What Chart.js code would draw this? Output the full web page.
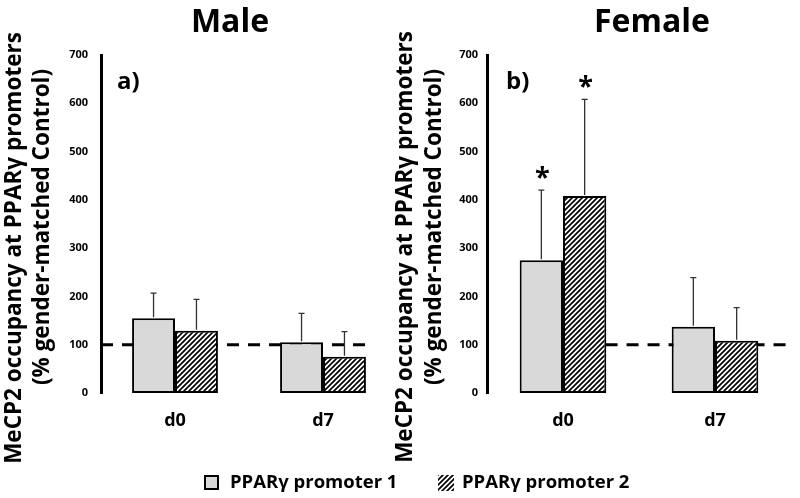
<!DOCTYPE html>
<html>
<head>
<meta charset="utf-8">
<script src="https://cdn.jsdelivr.net/npm/chart.js@4.4.0/dist/chart.umd.min.js"></script>
<style>
  html, body { margin:0; padding:0; background:#fff; }
  #wrap { position:relative; width:800px; height:498px; overflow:hidden; font-family:"Open Sans", sans-serif; font-weight:700; color:#000; }
  canvas { position:absolute; top:0; }
  .t { position:absolute; white-space:nowrap; line-height:1; font-weight:700; }
  .rot { position:absolute; white-space:nowrap; line-height:1; font-weight:700; font-size:22.5px; transform:translate(-50%,-50%) rotate(-90deg); }
  .sw { position:absolute; width:15px; height:15px; box-sizing:border-box; }
</style>
</head>
<body>
<div id="wrap">
  <canvas id="c1" width="400" height="498" style="left:0"></canvas>
  <canvas id="c2" width="400" height="498" style="left:400px"></canvas>

  <div class="t" style="left:230px;top:4px;font-size:32px;transform:translateX(-50%)">Male</div>
  <div class="t" style="left:652px;top:4px;font-size:32px;transform:translateX(-50%)">Female</div>

  <div class="t" style="left:117px;top:68px;font-size:24px">a)</div>
  <div class="t" style="left:506px;top:68px;font-size:24px">b)</div>

  <div class="rot" style="left:13px;top:248px">MeCP2 occupancy at PPARγ promoters</div>
  <div class="rot" style="left:41px;top:227px">(% gender-matched Control)</div>
  <div class="rot" style="left:404px;top:247px">MeCP2 occupancy at PPARγ promoters</div>
  <div class="rot" style="left:433px;top:227px">(% gender-matched Control)</div>

  <div class="sw" style="left:204px;top:475px;background:#d9d9d9;border:2px solid #000"></div>
  <div class="t" style="left:230px;top:472px;font-size:18.5px">PPARγ promoter 1</div>
  <canvas id="lg2" width="16" height="16" style="left:438px;top:475px"></canvas>
  <div class="t" style="left:462px;top:472px;font-size:18.5px">PPARγ promoter 2</div>
</div>
<script>
// ---- data ----
const categories = ['d0', 'd7'];
const seriesNames = ['PPARγ promoter 1', 'PPARγ promoter 2'];
const maleP1 = [155, 105];
const maleP2 = [129, 75];
const maleErrP1 = [52, 60];
const maleErrP2 = [65, 52];
const maleSigP1 = [false, false];
const maleSigP2 = [false, false];
const femaleP1 = [275, 137];
const femaleP2 = [408, 108];
const femaleErrP1 = [145, 102];
const femaleErrP2 = [200, 69];
const femaleSigP1 = [true, false];
const femaleSigP2 = [true, false];
const yMin = 0, yMax = 700, yStep = 100;
const refValue = 100;

// ---- styles ----
const FONT = '"Open Sans", sans-serif';
const GRAY = '#d9d9d9';

function makeHatch() {
  const s = 5;
  const c = document.createElement('canvas');
  c.width = s; c.height = s;
  const g = c.getContext('2d');
  g.fillStyle = '#fff'; g.fillRect(0, 0, s, s);
  g.strokeStyle = '#000'; g.lineWidth = 1.7;
  g.beginPath();
  for (const k of [0, s, 2 * s]) {
    g.moveTo(k + 1, -1); g.lineTo(-1, k + 1);
  }
  g.stroke();
  return c;
}
const hatchTile = makeHatch();

// legend swatch
(function () {
  const lc = document.getElementById('lg2').getContext('2d');
  lc.fillStyle = lc.createPattern(hatchTile, 'repeat');
  lc.fillRect(0, 0, 16, 16);
})();

function makeChart(id, p1, p2, e1, e2, s1, s2, geom) {
  const canvas = document.getElementById(id);
  const ctx = canvas.getContext('2d');
  const hatch = ctx.createPattern(hatchTile, 'repeat');
  const errs = [e1, e2];
  const sigs = [s1, s2];

  const overlay = {
    id: 'overlay' + id,
    beforeDatasetsDraw(chart) {
      const c = chart.ctx, ca = chart.chartArea, ys = chart.scales.y;
      const y = ys.getPixelForValue(refValue);
      const w = ca.right - ca.left;
      c.save();
      c.strokeStyle = '#000'; c.lineWidth = 3; c.setLineDash([12, 9]);
      c.beginPath();
      c.moveTo(ca.left + w * geom.refFrom, y);
      c.lineTo(ca.left + w * geom.refTo, y);
      c.stroke();
      c.restore();
    },
    afterDatasetsDraw(chart) {
      const c = chart.ctx, ys = chart.scales.y;
      c.save();
      chart.data.datasets.forEach((ds, di) => {
        const meta = chart.getDatasetMeta(di);
        meta.data.forEach((bar, i) => {
          const top = ys.getPixelForValue(ds.data[i] + errs[di][i]);
          c.strokeStyle = '#333'; c.lineWidth = 1.3; c.setLineDash([]);
          c.beginPath();
          c.moveTo(bar.x, bar.y - 1); c.lineTo(bar.x, top);
          c.moveTo(bar.x - 3, top); c.lineTo(bar.x + 3, top);
          c.stroke();
          if (sigs[di][i]) {
            c.fillStyle = '#000';
            c.font = '700 27px ' + FONT;
            c.textAlign = 'center';
            c.textBaseline = 'alphabetic';
            const m = c.measureText('*');
            const asc = m.actualBoundingBoxAscent, desc = m.actualBoundingBoxDescent;
            const cy = top - 18;
            c.fillText('*', bar.x + 1, cy + (asc - desc) / 2);
          }
        });
      });
      c.restore();
    }
  };

  return new Chart(ctx, {
    type: 'bar',
    data: {
      labels: categories,
      datasets: [
        { label: seriesNames[0], data: p1, backgroundColor: GRAY, borderColor: '#000', borderWidth: 2, borderSkipped: false,
          categoryPercentage: geom.cp, barPercentage: 1 },
        { label: seriesNames[1], data: p2, backgroundColor: hatch, borderColor: '#000', borderWidth: 2, borderSkipped: false,
          categoryPercentage: geom.cp, barPercentage: 1 }
      ]
    },
    options: {
      responsive: false,
      animation: false,
      devicePixelRatio: 1,
      layout: { padding: { left: 0, right: geom.padRight, top: 55, bottom: 65 } },
      plugins: { legend: { display: false }, tooltip: { enabled: false }, title: { display: false } },
      scales: {
        x: {
          grid: { display: false, drawTicks: false },
          border: { display: false },
          ticks: { color: '#000', padding: 17, font: { family: FONT, size: 18, weight: '700' } },
          afterFit(s) { s.height = 40; }
        },
        y: {
          min: yMin, max: yMax,
          grid: { display: false, drawTicks: false },
          border: { display: true, color: '#000', width: 3 },
          ticks: { stepSize: yStep, color: '#000', padding: geom.tickPad, font: { family: FONT, size: 11, weight: '700' } },
          afterFit(s) { s.width = geom.yWidth; }
        }
      }
    },
    plugins: [overlay]
  });
}

makeChart('c1', maleP1, maleP2, maleErrP1, maleErrP2, maleSigP1, maleSigP2,
  { cp: 0.58, padRight: 3, yWidth: 101, tickPad: 13, refFrom: 0, refTo: 0.916 });
makeChart('c2', femaleP1, femaleP2, femaleErrP1, femaleErrP2, femaleSigP1, femaleSigP2,
  { cp: 0.57, padRight: 9, yWidth: 87, tickPad: 9, refFrom: 0.39, refTo: 0.997 });
</script>
</body>
</html>
